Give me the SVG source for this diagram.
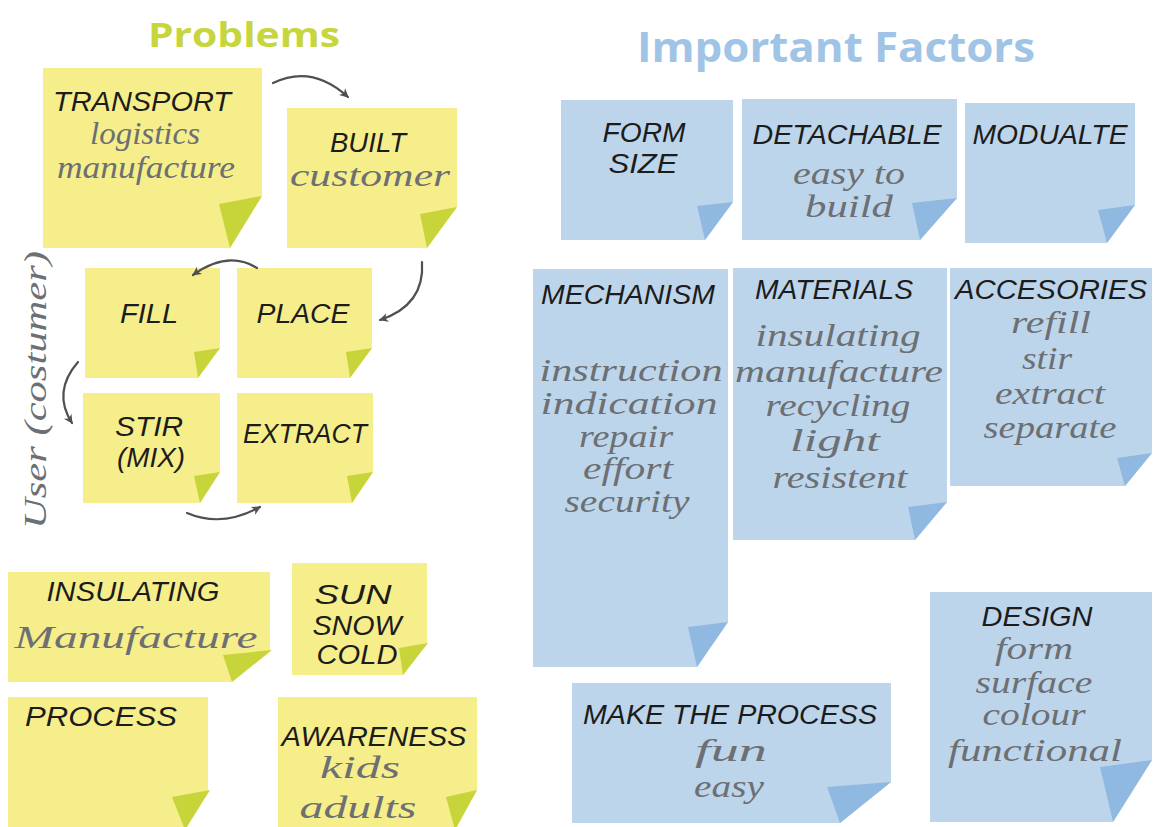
<svg xmlns="http://www.w3.org/2000/svg" width="1156" height="827" viewBox="0 0 1156 827">
<style>
.bg{fill:#ffffff}
.ny{fill:#f6ee8a}
.fy{fill:#c8d53a}
.nb{fill:#bdd5eb}
.fb{fill:#8fb9e1}
.cap{font-family:"Liberation Sans","DejaVu Sans",sans-serif;font-style:italic;font-size:27px;fill:#1c1c1c;text-anchor:middle}
.scr{font-family:"Liberation Serif","DejaVu Serif",serif;font-style:italic;font-size:31px;fill:#6c6f73;text-anchor:middle}
.ttl{font-family:"Open Sans","DejaVu Sans",sans-serif;font-weight:700;text-anchor:middle}
.arr{fill:none;stroke:#4f5050;stroke-width:2.2;stroke-linecap:round}
</style>
<defs>
<marker id="ah" markerWidth="12" markerHeight="12" refX="9" refY="6" orient="auto" markerUnits="userSpaceOnUse">
<path d="M1,1.5 L10,6 L1,10.5 L3.5,6 z" fill="#4f5050"/>
</marker>
</defs>
<rect class="bg" x="0" y="0" width="1156" height="827"/>

<text class="ttl" x="244" y="47" font-size="34" fill="#c6d63c" textLength="192" lengthAdjust="spacingAndGlyphs">Problems</text>
<text class="ttl" x="836" y="62" font-size="42" fill="#9fc4e6" textLength="398" lengthAdjust="spacingAndGlyphs">Important Factors</text>

<g id="transport">
<polygon class="ny" points="43,68 262,68 262,196 230,248 43,248"/>
<polygon class="fy" points="262,196 230,248 219,204"/>
<text class="cap" x="142" y="111" font-size="25" textLength="178" lengthAdjust="spacingAndGlyphs">TRANSPORT</text>
<text class="scr" x="145" y="144" font-size="27" textLength="110" lengthAdjust="spacingAndGlyphs">logistics</text>
<text class="scr" x="146" y="178" font-size="28" textLength="178" lengthAdjust="spacingAndGlyphs">manufacture</text>
</g>
<g id="built">
<polygon class="ny" points="287,108 457,108 457,207 427,248 287,248"/>
<polygon class="fy" points="457,207 427,248 420,214"/>
<text class="cap" x="368" y="152" textLength="76" lengthAdjust="spacingAndGlyphs">BUILT</text>
<text class="scr" x="370" y="186" font-size="36" textLength="160" lengthAdjust="spacingAndGlyphs">customer</text>
</g>
<g id="fill">
<polygon class="ny" points="85,268 220,268 220,348 198,378 85,378"/>
<polygon class="fy" points="220,348 198,378 194,352"/>
<text class="cap" x="149" y="323" textLength="58" lengthAdjust="spacingAndGlyphs">FILL</text>
</g>
<g id="place">
<polygon class="ny" points="237,268 372,268 372,348 350,378 237,378"/>
<polygon class="fy" points="372,348 350,378 346,352"/>
<text class="cap" x="303" y="323" textLength="93" lengthAdjust="spacingAndGlyphs">PLACE</text>
</g>
<g id="stir">
<polygon class="ny" points="83,393 220,393 220,472 200,503 83,503"/>
<polygon class="fy" points="220,472 200,503 194,476"/>
<text class="cap" x="149" y="436" textLength="68" lengthAdjust="spacingAndGlyphs">STIR</text>
<text class="cap" x="151" y="467" textLength="68" lengthAdjust="spacingAndGlyphs">(MIX)</text>
</g>
<g id="extract">
<polygon class="ny" points="237,393 373,393 373,472 352,503 237,503"/>
<polygon class="fy" points="373,472 352,503 347,476"/>
<text class="cap" x="305" y="443" textLength="124" lengthAdjust="spacingAndGlyphs">EXTRACT</text>
</g>
<g id="user-label">
<text class="scr" x="0" y="0" font-size="34" transform="translate(46,390) rotate(-90)" textLength="278" lengthAdjust="spacingAndGlyphs">User (costumer)</text>
</g>
<g id="insulating">
<polygon class="ny" points="8,572 270,572 270,650 232,682 8,682"/>
<polygon class="fy" points="272,650 232,682 223,655"/>
<text class="cap" x="133" y="601" textLength="173" lengthAdjust="spacingAndGlyphs">INSULATING</text>
<text class="scr" x="136" y="648" font-size="36" textLength="243" lengthAdjust="spacingAndGlyphs">Manufacture</text>
</g>
<g id="weather">
<polygon class="ny" points="292,563 427,563 427,643 403,675 292,675"/>
<polygon class="fy" points="428,643 403,675 399,648"/>
<text class="cap" x="353" y="604" textLength="77" lengthAdjust="spacingAndGlyphs">SUN</text>
<text class="cap" x="357" y="635" textLength="89" lengthAdjust="spacingAndGlyphs">SNOW</text>
<text class="cap" x="357" y="664" textLength="81" lengthAdjust="spacingAndGlyphs">COLD</text>
</g>
<g id="process">
<polygon class="ny" points="8,697 208,697 208,790 185,830 8,830"/>
<polygon class="fy" points="210,790 185,830 172,797"/>
<text class="cap" x="101" y="726" textLength="152" lengthAdjust="spacingAndGlyphs">PROCESS</text>
</g>
<g id="awareness">
<polygon class="ny" points="278,697 477,697 477,790 455,830 278,830"/>
<polygon class="fy" points="477,790 455,830 446,797"/>
<text class="cap" x="374" y="746" textLength="185" lengthAdjust="spacingAndGlyphs">AWARENESS</text>
<text class="scr" x="360" y="778" font-size="34" textLength="80" lengthAdjust="spacingAndGlyphs">kids</text>
<text class="scr" x="358" y="818" font-size="34" textLength="117" lengthAdjust="spacingAndGlyphs">adults</text>
</g>

<g id="connectors">
<path class="arr" d="M273,83 Q312,64 348,97" marker-end="url(#ah)"/>
<path class="arr" d="M422,262 Q425,305 380,320" marker-end="url(#ah)"/>
<path class="arr" d="M257,268 Q228,250 193,275" marker-end="url(#ah)"/>
<path class="arr" d="M78,362 Q52,392 72,423" marker-end="url(#ah)"/>
<path class="arr" d="M187,513 Q222,528 260,507" marker-end="url(#ah)"/>
</g>

<g id="form-size">
<polygon class="nb" points="561,100 733,100 733,202 705,240 561,240"/>
<polygon class="fb" points="733,202 705,240 697,206"/>
<text class="cap" x="644" y="142" textLength="83" lengthAdjust="spacingAndGlyphs">FORM</text>
<text class="cap" x="643" y="173" textLength="69" lengthAdjust="spacingAndGlyphs">SIZE</text>
</g>
<g id="detachable">
<polygon class="nb" points="742,99 957,99 957,198 920,240 742,240"/>
<polygon class="fb" points="957,198 920,240 912,203"/>
<text class="cap" x="847" y="144" textLength="189" lengthAdjust="spacingAndGlyphs">DETACHABLE</text>
<text class="scr" x="849" y="184" textLength="112" lengthAdjust="spacingAndGlyphs">easy to</text>
<text class="scr" x="849" y="217" textLength="88" lengthAdjust="spacingAndGlyphs">build</text>
</g>
<g id="modualte">
<polygon class="nb" points="965,103 1135,103 1135,205 1107,243 965,243"/>
<polygon class="fb" points="1135,205 1107,243 1098,210"/>
<text class="cap" x="1050" y="144" textLength="155" lengthAdjust="spacingAndGlyphs">MODUALTE</text>
</g>
<g id="mechanism">
<polygon class="nb" points="533,269 728,269 728,622 697,667 533,667"/>
<polygon class="fb" points="728,622 697,667 688,627"/>
<text class="cap" x="628" y="304" textLength="174" lengthAdjust="spacingAndGlyphs">MECHANISM</text>
<text class="scr" x="631" y="381" textLength="183" lengthAdjust="spacingAndGlyphs">instruction</text>
<text class="scr" x="629" y="414" textLength="177" lengthAdjust="spacingAndGlyphs">indication</text>
<text class="scr" x="626" y="447" textLength="94" lengthAdjust="spacingAndGlyphs">repair</text>
<text class="scr" x="628" y="479" textLength="90" lengthAdjust="spacingAndGlyphs">effort</text>
<text class="scr" x="627" y="512" textLength="125" lengthAdjust="spacingAndGlyphs">security</text>
</g>
<g id="materials">
<polygon class="nb" points="733,268 947,268 947,502 915,540 733,540"/>
<polygon class="fb" points="947,502 915,540 908,507"/>
<text class="cap" x="834" y="299" textLength="158" lengthAdjust="spacingAndGlyphs">MATERIALS</text>
<text class="scr" x="838" y="346" textLength="165" lengthAdjust="spacingAndGlyphs">insulating</text>
<text class="scr" x="839" y="382" textLength="208" lengthAdjust="spacingAndGlyphs">manufacture</text>
<text class="scr" x="838" y="416" textLength="145" lengthAdjust="spacingAndGlyphs">recycling</text>
<text class="scr" x="835" y="451" textLength="90" lengthAdjust="spacingAndGlyphs">light</text>
<text class="scr" x="840" y="488" textLength="135" lengthAdjust="spacingAndGlyphs">resistent</text>
</g>
<g id="accesories">
<polygon class="nb" points="950,268 1152,268 1152,453 1125,486 950,486"/>
<polygon class="fb" points="1152,453 1125,486 1117,458"/>
<text class="cap" x="1051" y="299" textLength="192" lengthAdjust="spacingAndGlyphs">ACCESORIES</text>
<text class="scr" x="1051" y="333" textLength="80" lengthAdjust="spacingAndGlyphs">refill</text>
<text class="scr" x="1047" y="369" textLength="50" lengthAdjust="spacingAndGlyphs">stir</text>
<text class="scr" x="1050" y="404" textLength="110" lengthAdjust="spacingAndGlyphs">extract</text>
<text class="scr" x="1050" y="438" textLength="133" lengthAdjust="spacingAndGlyphs">separate</text>
</g>
<g id="design">
<polygon class="nb" points="930,592 1152,592 1152,760 1113,822 930,822"/>
<polygon class="fb" points="1152,760 1113,822 1100,767"/>
<text class="cap" x="1037" y="626" textLength="111" lengthAdjust="spacingAndGlyphs">DESIGN</text>
<text class="scr" x="1034" y="659" textLength="78" lengthAdjust="spacingAndGlyphs">form</text>
<text class="scr" x="1034" y="693" textLength="117" lengthAdjust="spacingAndGlyphs">surface</text>
<text class="scr" x="1034" y="725" textLength="103" lengthAdjust="spacingAndGlyphs">colour</text>
<text class="scr" x="1035" y="761" textLength="174" lengthAdjust="spacingAndGlyphs">functional</text>
</g>
<g id="make-process">
<polygon class="nb" points="572,683 891,683 891,782 840,823 572,823"/>
<polygon class="fb" points="891,782 840,823 827,787"/>
<text class="cap" x="730" y="724" textLength="294" lengthAdjust="spacingAndGlyphs">MAKE THE PROCESS</text>
<text class="scr" x="731" y="761" textLength="72" lengthAdjust="spacingAndGlyphs">fun</text>
<text class="scr" x="729" y="797" textLength="70" lengthAdjust="spacingAndGlyphs">easy</text>
</g>
</svg>
